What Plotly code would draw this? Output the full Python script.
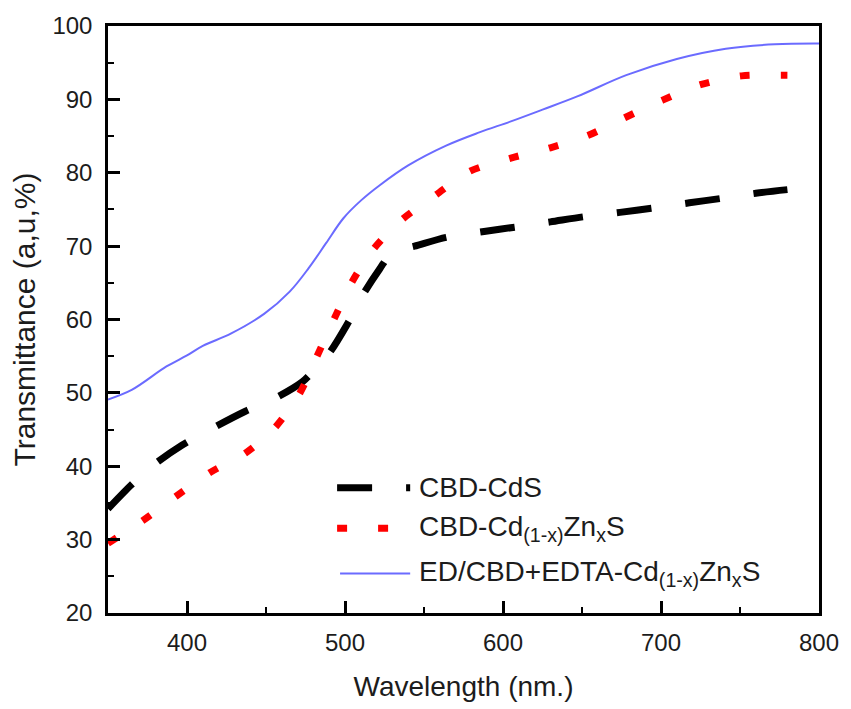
import plotly.graph_objects as go

# Transmittance spectra (wavelength in nm, transmittance in %)
cds_wl = [350, 365, 379, 397, 418, 437, 456, 473, 480, 490, 501, 512, 522, 530,
          544, 564, 588, 608, 630, 651, 674, 695, 718, 738, 760, 780]
cds_t = [34.2, 37.5, 40.2, 42.9, 45.4, 47.5, 49.3, 51.5, 53.0, 55.4, 59.2, 63.6, 66.9, 69.2,
         70.0, 71.2, 72.0, 72.6, 73.3, 74.0, 74.6, 75.2, 75.9, 76.5, 77.2, 77.7]

cdzns_wl = [350, 372, 393, 415, 437, 455, 471, 482.5, 493.6, 504.4, 518, 536, 557,
            579, 605, 630, 654, 677, 701, 725, 751, 777, 780]
cdzns_t = [29.5, 32.6, 35.9, 39.2, 41.8, 45.1, 49.8, 55.1, 60.3, 65.1, 69.6, 73.6, 76.9,
           80.2, 82.0, 83.4, 85.1, 87.5, 89.9, 92.0, 93.2, 93.3, 93.3]

edta_wl = [350, 365, 387, 400, 410, 428, 449, 465, 477, 488, 499, 510, 522, 540, 564,
           585, 605, 625, 647, 678, 710, 741, 772, 800]
edta_t = [49.1, 50.4, 53.6, 55.1, 56.4, 58.1, 60.8, 63.8, 67.0, 70.4, 73.8, 76.2, 78.3,
          81.0, 83.7, 85.5, 87.0, 88.6, 90.4, 93.3, 95.5, 96.9, 97.5, 97.6]

series_names = [
    "CBD-CdS",
    "CBD-Cd<sub>(1-x)</sub>Zn<sub>x</sub>S",
    "ED/CBD+EDTA-Cd<sub>(1-x)</sub>Zn<sub>x</sub>S",
]

FONT = "Liberation Sans, Arial, sans-serif"
TEXT = "#1c1c1c"

black_style = dict(color="black", width=7, dash="35px,34px")
red_style = dict(color="#ff0000", width=7, dash="10px,31px")
blue_style = dict(color="#6b6bff", width=2)

fig = go.Figure()
fig.add_trace(go.Scatter(x=cds_wl, y=cds_t, mode="lines", name=series_names[0],
                         line=dict(shape="spline", smoothing=0.8, **black_style)))
fig.add_trace(go.Scatter(x=cdzns_wl, y=cdzns_t, mode="lines", name=series_names[1],
                         line=dict(shape="spline", smoothing=0.8, **red_style)))
fig.add_trace(go.Scatter(x=edta_wl, y=edta_t, mode="lines", name=series_names[2],
                         line=dict(shape="spline", smoothing=1.0, **blue_style)))

# Plot area in pixels
W, H = 851, 709
ML, MR, MT, MB = 108, 23, 22, 92
PW, PH = W - ML - MR, H - MT - MB


def px(xp):
    return (xp - ML) / PW


def py(yp):
    return (H - MB - yp) / PH


# Hand-drawn legend in the lower right of the frame
legend_rows = [490, 531, 577]
sample_starts = [340, 340, 343]
styles = [black_style, red_style, blue_style]
shapes = []
annotations = []
for name, row, x0, st in zip(series_names, legend_rows, sample_starts, styles):
    shapes.append(dict(type="line", xref="paper", yref="paper",
                       x0=px(x0), x1=px(414), y0=py(row), y1=py(row),
                       line=st))
    annotations.append(dict(text=name, xref="paper", yref="paper",
                            x=px(421), y=py(row), xanchor="left", yanchor="middle",
                            showarrow=False,
                            font=dict(family=FONT, size=28, color=TEXT)))

axis_common = dict(
    showline=True, linecolor="black", linewidth=2.5, mirror=True,
    ticks="inside", ticklen=12, tickwidth=2.5, tickcolor="black",
    showgrid=False, zeroline=False,
    tickfont=dict(family=FONT, size=24, color=TEXT),
)

fig.update_layout(
    width=W, height=H,
    margin=dict(l=ML, r=MR, t=MT, b=MB),
    plot_bgcolor="white", paper_bgcolor="white",
    showlegend=False,
    shapes=shapes,
    annotations=annotations,
    xaxis=dict(range=[350, 800], tickvals=[400, 500, 600, 700, 800],
               minor=dict(ticks="inside", ticklen=6, tickwidth=2, tickcolor="black",
                          tickvals=[350, 450, 550, 650, 750]),
               title=dict(text="Wavelength (nm.)", standoff=22,
                          font=dict(family=FONT, size=28, color=TEXT)),
               ticklabelstandoff=6,
               **axis_common),
    yaxis=dict(range=[20, 100], dtick=10,
               minor=dict(ticks="inside", ticklen=6, tickwidth=2, tickcolor="black", dtick=5),
               title=dict(text="Transmittance (a,u,%)", standoff=8,
                          font=dict(family=FONT, size=30, color=TEXT)),
               ticklabelstandoff=8,
               **axis_common),
)

fig.write_html("out.html")
